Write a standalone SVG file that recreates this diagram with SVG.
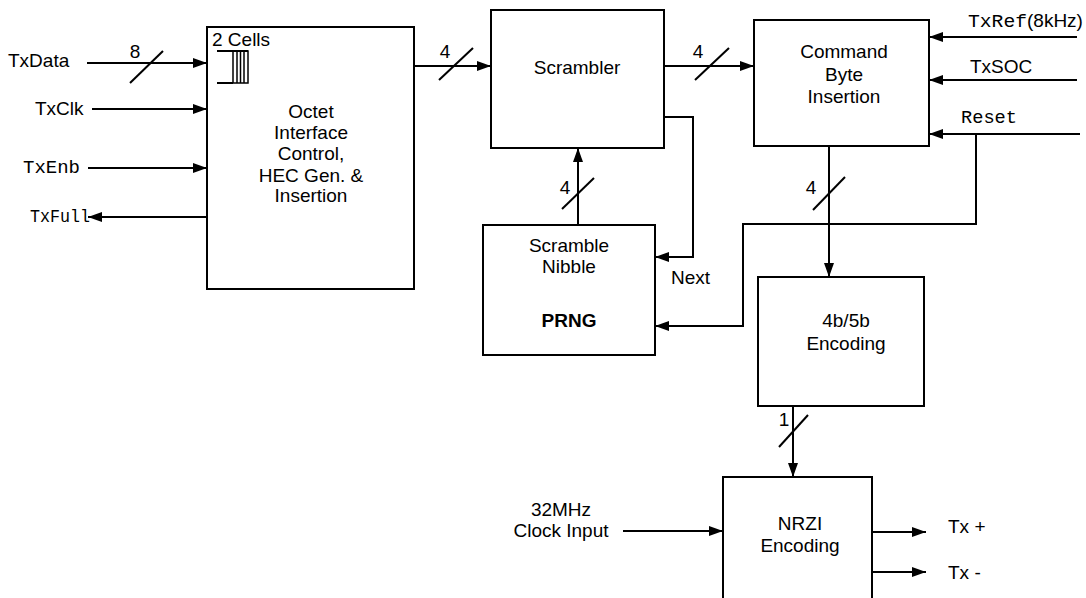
<svg xmlns="http://www.w3.org/2000/svg" width="1086" height="598" viewBox="0 0 1086 598">
<style>
.box{fill:#fff;stroke:#000;stroke-width:2}
.ln{fill:none;stroke:#000;stroke-width:2}
.t{font-family:"Liberation Sans",Arial,sans-serif;font-size:19px;fill:#000}
.m{font-family:"Liberation Mono","Courier New",monospace;font-size:19px;fill:#000}
.c{text-anchor:middle}
</style>
<defs>
<marker id="ah" markerUnits="userSpaceOnUse" markerWidth="15" markerHeight="10" refX="14" refY="5" orient="auto">
<path d="M0,0 L14,5 L0,10 z" fill="#000"/>
</marker>
</defs>
<rect width="1086" height="598" fill="#fff"/>
<g id="octet">
<rect class="box" x="207" y="27" width="207" height="262"/>
<text class="t" x="212" y="46">2 Cells</text>
<path class="ln" d="M217,51 H248 M217,83 H233" stroke-width="1.5"/>
<rect x="233" y="51" width="15" height="32" fill="none" stroke="#000" stroke-width="1.5"/>
<path d="M237,51 V83 M240.5,51 V83 M244,51 V83" stroke="#000" stroke-width="1.5"/>
<text class="t c" x="311" y="118">Octet</text>
<text class="t c" x="311" y="139">Interface</text>
<text class="t c" x="311" y="160">Control,</text>
<text class="t c" x="311" y="182">HEC Gen. &amp;</text>
<text class="t c" x="311" y="202">Insertion</text>
</g>
<g id="scrambler">
<rect class="box" x="491" y="10" width="173" height="138"/>
<text class="t c" x="577" y="74">Scrambler</text>
</g>
<g id="command">
<rect class="box" x="754" y="20" width="175" height="126"/>
<text class="t c" x="844" y="58">Command</text>
<text class="t c" x="844" y="81">Byte</text>
<text class="t c" x="844" y="103">Insertion</text>
</g>
<g id="prng">
<rect class="box" x="483" y="225" width="172" height="130"/>
<text class="t c" x="569" y="252">Scramble</text>
<text class="t c" x="569" y="273">Nibble</text>
<text class="t c" x="569" y="327" font-weight="bold">PRNG</text>
</g>
<g id="enc4b5b">
<rect class="box" x="758" y="277" width="166" height="129"/>
<text class="t c" x="846" y="327">4b/5b</text>
<text class="t c" x="846" y="350">Encoding</text>
</g>
<g id="nrzi">
<rect class="box" x="723" y="477" width="149" height="130"/>
<text class="t c" x="800" y="530">NRZI</text>
<text class="t c" x="800" y="552">Encoding</text>
</g>
<g id="labels">
<text class="t" x="8" y="67">TxData</text>
<text class="t" x="35" y="115">TxClk</text>
<text class="m" x="23" y="173" textLength="57" lengthAdjust="spacingAndGlyphs">TxEnb</text>
<text class="m" x="30" y="222" textLength="60" lengthAdjust="spacingAndGlyphs">TxFull</text>
<text class="m" x="968" y="27" textLength="59" lengthAdjust="spacingAndGlyphs">TxRef</text>
<text class="t" x="1027" y="27">(8kHz)</text>
<text class="t" x="970" y="73">TxSOC</text>
<text class="m" x="961" y="123" textLength="56" lengthAdjust="spacingAndGlyphs">Reset</text>
<text class="t" x="671" y="284">Next</text>
<text class="t c" x="561" y="516">32MHz</text>
<text class="t c" x="561" y="537">Clock Input</text>
<text class="t" x="948" y="533">Tx +</text>
<text class="t" x="948" y="579">Tx -</text>
<text class="t c" x="135" y="58">8</text>
<text class="t c" x="445" y="58">4</text>
<text class="t c" x="698" y="58">4</text>
<text class="t c" x="565" y="194">4</text>
<text class="t c" x="811" y="194">4</text>
<text class="t c" x="784" y="426">1</text>
</g>
<g id="connectors">
<line class="ln" x1="87" y1="63" x2="207" y2="63" marker-end="url(#ah)"/>
<line class="ln" x1="130" y1="83" x2="163" y2="51"/>
<line class="ln" x1="92" y1="109" x2="207" y2="109" marker-end="url(#ah)"/>
<line class="ln" x1="88" y1="168" x2="207" y2="168" marker-end="url(#ah)"/>
<line class="ln" x1="207" y1="217" x2="88" y2="217" marker-end="url(#ah)"/>
<line class="ln" x1="414" y1="66" x2="491" y2="66" marker-end="url(#ah)"/>
<line class="ln" x1="439" y1="80" x2="473" y2="48"/>
<line class="ln" x1="664" y1="66" x2="754" y2="66" marker-end="url(#ah)"/>
<line class="ln" x1="695" y1="80" x2="729" y2="48"/>
<line class="ln" x1="1077" y1="37" x2="929" y2="37" marker-end="url(#ah)"/>
<line class="ln" x1="1077" y1="80" x2="929" y2="80" marker-end="url(#ah)"/>
<line class="ln" x1="1080" y1="134" x2="929" y2="134" marker-end="url(#ah)"/>
<polyline class="ln" points="976,134 976,224 743,224 743,326 655,326" marker-end="url(#ah)"/>
<polyline class="ln" points="664,117 693,117 693,257 655,257" marker-end="url(#ah)"/>
<line class="ln" x1="578" y1="225" x2="578" y2="148" marker-end="url(#ah)"/>
<line class="ln" x1="562" y1="209" x2="594" y2="178"/>
<line class="ln" x1="829" y1="146" x2="829" y2="277" marker-end="url(#ah)"/>
<line class="ln" x1="813" y1="210" x2="845" y2="177"/>
<line class="ln" x1="793" y1="406" x2="793" y2="477" marker-end="url(#ah)"/>
<line class="ln" x1="779" y1="447" x2="808" y2="415"/>
<line class="ln" x1="623" y1="531" x2="723" y2="531" marker-end="url(#ah)"/>
<line class="ln" x1="872" y1="532" x2="926" y2="532" marker-end="url(#ah)"/>
<line class="ln" x1="872" y1="572" x2="926" y2="572" marker-end="url(#ah)"/>
</g>
</svg>
